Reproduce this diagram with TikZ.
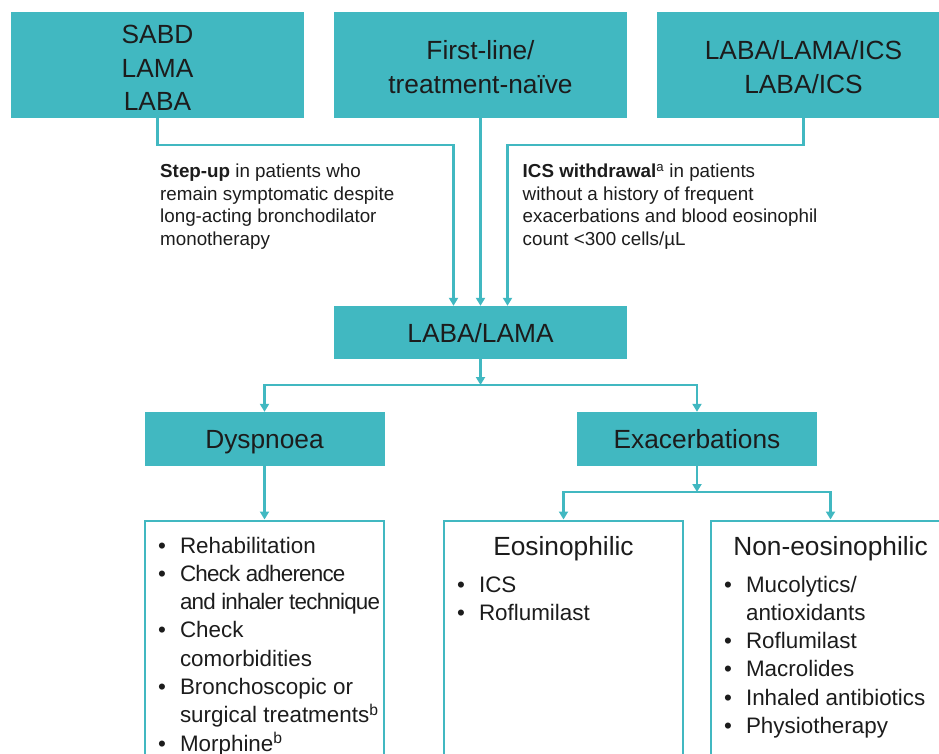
\documentclass[tikz,border=0pt]{standalone}
\usepackage{fontspec}
\setmainfont{Liberation Sans}
\usetikzlibrary{arrows.meta}
\definecolor{teal1}{RGB}{65,184,193}
\definecolor{txt}{RGB}{28,28,28}
\newcommand{\fsz}[2]{\fontsize{#1}{#2}\selectfont}
\newcommand{\cond}[1]{{\addfontfeature{LetterSpace=-3.5}#1}}
\begin{document}
\begin{tikzpicture}[x=1pt,y=-1pt,
  hdr/.style={fill=teal1, draw=none, minimum width=293pt, minimum height=106pt, inner sep=0pt},
  htext/.style={inner sep=0pt, anchor=base, text=txt, font={\fsz{26.3}{33.3}}},
  mid/.style={fill=teal1, draw=none, minimum width=293pt, minimum height=53pt, inner sep=0pt, text depth=0pt, font={\fsz{26.3}{30}}, text=txt},
  sub/.style={fill=teal1, draw=none, minimum width=240pt, minimum height=54pt, inner sep=0pt, text depth=0pt, font={\fsz{26.3}{30}}, text=txt},
  lst/.style={draw=teal1, line width=2.5pt, minimum width=239pt, minimum height=300pt, anchor=north, inner sep=0pt},
  arr/.style={draw=teal1, line width=2.5pt, -{Triangle[length=8pt,width=9pt]}},
  biarr/.style={draw=teal1, line width=2.5pt, {Triangle[length=8pt,width=9pt]}-{Triangle[length=8pt,width=9pt]}},
  note/.style={inner sep=0pt, anchor=base west, text=txt, font={\fsz{18.8}{22.6}}},
  item/.style={inner sep=0pt, anchor=base west, text=txt, font={\fsz{22.4}{28.3}}},
  ttl/.style={inner sep=0pt, anchor=base, text=txt, font={\fsz{26.3}{30}}}
]
\useasboundingbox (0,0) rectangle (939,754);
\clip (0,0) rectangle (939,754);
% header boxes
\node[hdr] (b1) at (157.5,65) {};
\node[hdr] (b2) at (480.5,65) {};
\node[hdr] (b3) at (803.5,65) {};
\node[htext] (b1t) at (157.5,44) {\fsz{26.3}{33.5}\begin{tabular}[t]{@{}c@{}}SABD\\LAMA\\LABA\end{tabular}};
\node[htext] (b2t) at (480.5,60) {\begin{tabular}[t]{@{}c@{}}First-line/\\treatment-naïve\end{tabular}};
\node[htext] (b3t) at (803.5,60) {\begin{tabular}[t]{@{}c@{}}LABA/LAMA/ICS\\LABA/ICS\end{tabular}};
% middle
\node[mid] (ll) at (480.5,332.5) {LABA/LAMA};
\node[sub] (dys) at (264.5,439) {Dyspnoea};
\node[sub] (exa) at (697,439) {Exacerbations};
% list boxes
\node[lst] (dyl) at (264.5,519.5) {};
\node[lst] (eos) at (563.5,519.5) {};
\node[lst] (neo) at (830.5,519.5) {};
% junctions
\coordinate (jA) at (480.5,385);
\coordinate (jB) at (697,492);
% connectors
\draw[arr] (b1.south) -- ++(0,27) -| ([xshift=-27pt]ll.north);
\draw[arr] (b2.south) -- (ll.north);
\draw[arr] (b3.south) -- ++(0,27) -| ([xshift=27pt]ll.north);
\draw[arr] (ll.south) -- (jA);
\draw[biarr] (dys.north) |- (jA) -| (exa.north);
\draw[arr] (dys.south) -- (dys.south |- dyl.north);
\draw[arr] (exa.south) -- (jB);
\draw[biarr] (eos.north) |- (jB) -| (neo.north);
% notes
\node[note] (n1) at (160,177.5) {\begin{tabular}[t]{@{}l@{}}\textbf{Step-up} in patients who\\remain symptomatic despite\\long-acting bronchodilator\\monotherapy\end{tabular}};
\node[note] (n2) at (522.5,177.5) {\begin{tabular}[t]{@{}l@{}}\textbf{ICS withdrawal}\textsuperscript{a} in patients\\without a history of frequent\\exacerbations and blood eosinophil\\count <300 cells/µL\end{tabular}};
% list contents
\node[item] (dyi) at (158,553) {\begin{tabular}[t]{@{}l@{\hspace{14pt}}l@{}}
\textbullet & Rehabilitation\\
\textbullet & \cond{Check adherence}\\
 & \cond{and inhaler technique}\\
\textbullet & Check\\
 & comorbidities\\
\textbullet & Bronchoscopic or\\
 & surgical treatments\textsuperscript{b}\\
\textbullet & Morphine\textsuperscript{b}
\end{tabular}};
\node[ttl] (eost) at (563.5,555) {Eosinophilic};
\node[item] (eosi) at (457,592) {\begin{tabular}[t]{@{}l@{\hspace{14pt}}l@{}}
\textbullet & ICS\\
\textbullet & Roflumilast
\end{tabular}};
\node[ttl] (neot) at (830.5,555) {Non-eosinophilic};
\node[item] (neoi) at (724,592) {\begin{tabular}[t]{@{}l@{\hspace{14pt}}l@{}}
\textbullet & Mucolytics/\\
 & antioxidants\\
\textbullet & Roflumilast\\
\textbullet & Macrolides\\
\textbullet & Inhaled antibiotics\\
\textbullet & Physiotherapy
\end{tabular}};
\end{tikzpicture}
\end{document}
